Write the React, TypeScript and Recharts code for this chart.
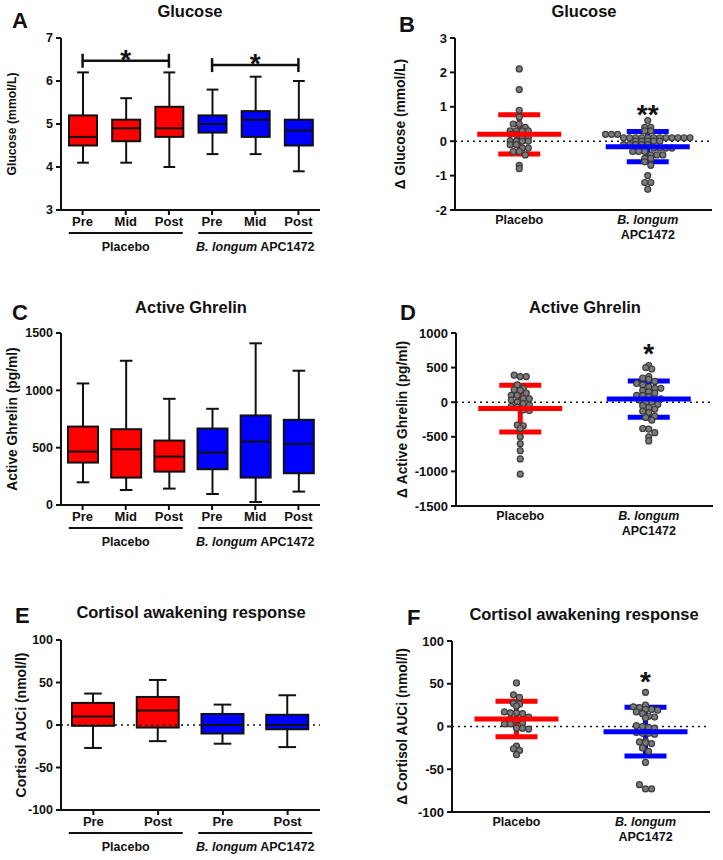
import React from 'react';
import {
  ComposedChart,
  ScatterChart,
  Bar,
  Scatter,
  XAxis,
  YAxis,
  ReferenceLine,
  ReferenceDot,
  ErrorBar,
} from 'recharts';

const FONT = '"Liberation Sans", Arial, sans-serif';
const RED = '#ff0000';
const BLUE = '#0000ff';
const INK = '#111111';

const groups = ['Placebo', 'B. longum APC1472'];
const timesThree = ['Pre', 'Mid', 'Post'];
const timesTwo = ['Pre', 'Post'];

// box plots, order: placebo times, then B. longum times
const glucoseMin = [4.1, 4.1, 4.0, 4.3, 4.3, 3.9];
const glucoseQ1 = [4.5, 4.6, 4.7, 4.8, 4.7, 4.5];
const glucoseMedian = [4.7, 4.9, 4.9, 5.0, 5.1, 4.85];
const glucoseQ3 = [5.2, 5.1, 5.4, 5.2, 5.3, 5.1];
const glucoseMax = [6.2, 5.6, 6.2, 5.8, 6.1, 6.0];
const glucoseTicks = [3, 4, 5, 6, 7];

const ghrelinMin = [198, 131, 143, 96, 26, 117];
const ghrelinQ1 = [370, 239, 291, 312, 239, 277];
const ghrelinMedian = [466, 486, 422, 457, 553, 533];
const ghrelinQ3 = [684, 661, 562, 667, 781, 743];
const ghrelinMax = [1060, 1258, 926, 839, 1410, 1171];
const ghrelinTicks = [0, 500, 1000, 1500];

const cortisolMin = [-27, -19, -22, -26];
const cortisolQ1 = [-1, -3, -10, -5];
const cortisolMedian = [10, 17, 0, 0];
const cortisolQ3 = [26, 33, 13, 12];
const cortisolMax = [37, 53, 24, 35];
const cortisolTicks = [-100, -50, 0, 50, 100];

// significance brackets on panel A
const glucoseBrackets = [
  { from: 'Placebo Pre', to: 'Placebo Post', y: 6.47, text: '*' },
  { from: 'B. longum APC1472 Pre', to: 'B. longum APC1472 Post', y: 6.37, text: '*' },
];

// change scores (post - pre)
const dGlucosePlacebo = [2.1, 1.5, 0.9, 0.7, 0.5, 0.5, 0.4, 0.3, 0.3, 0.3, 0.3, 0.2, 0.2, 0.1, 0.1, 0.0, 0.0, 0.0, 0.0, -0.1, -0.1, -0.2, -0.2, -0.3, -0.3, -0.4, -0.7, -0.8];
const dGlucoseLongum = [0.6, 0.4, 0.4, 0.3, 0.3, 0.2, 0.2, 0.2, 0.1, 0.1, 0.1, 0.1, 0.1, 0.1, 0.1, 0.1, 0.1, 0.1, 0.1, 0.1, 0.0, 0.0, 0.0, 0.0, 0.0, -0.1, -0.1, -0.1, -0.1, -0.1, -0.2, -0.2, -0.2, -0.2, -0.3, -0.3, -0.3, -0.4, -0.4, -0.4, -0.5, -0.5, -0.6, -0.7, -1.0, -1.2, -1.2, -1.4];
const dGlucoseMean = [0.2, -0.16];
const dGlucoseSd = [0.57, 0.44];
const dGlucoseTicks = [-2, -1, 0, 1, 2, 3];
const dGlucoseStar = { text: '**', y: 0.96 };

const dGhrelinPlacebo = [390, 370, 370, 250, 200, 180, 170, 130, 100, 100, 50, 50, 30, 0, -20, -40, -60, -70, -110, -120, -330, -340, -380, -500, -600, -700, -820, -1040];
const dGhrelinLongum = [530, 500, 480, 370, 350, 330, 300, 270, 250, 220, 200, 200, 170, 150, 130, 100, 100, 80, 50, 50, 30, 0, 0, -30, -50, -80, -100, -130, -150, -200, -220, -260, -380, -390, -440, -500, -560];
const dGhrelinMean = [-92, 45];
const dGhrelinSd = [338, 261];
const dGhrelinTicks = [-1500, -1000, -500, 0, 500, 1000];
const dGhrelinStar = { text: '*', y: 800 };

const dCortisolPlacebo = [51, 37, 34, 27, 26, 24, 17, 16, 16, 15, 11, 9, 8, 4, 3, 3, -2, -2, -3, -23, -26, -28, -33];
const dCortisolLongum = [40, 25, 23, 22, 20, 20, 19, 17, 15, 12, 11, 10, 1, 0, -1, -2, -7, -8, -8, -9, -17, -18, -19, -20, -25, -29, -42, -68, -73, -73];
const dCortisolMean = [8.8, -6];
const dCortisolSd = [20.8, 28.4];
const dCortisolTicks = [-100, -50, 0, 50, 100];
const dCortisolStar = { text: '*', y: 60 };

function boxRows(times: string[], min: number[], q1: number[], med: number[], q3: number[], max: number[]) {
  return groups.flatMap((g, gi) =>
    times.map((t, ti) => {
      const i = gi * times.length + ti;
      return { key: `${g} ${t}`, time: t, group: g, min: min[i], q1: q1[i], median: med[i], q3: q3[i], max: max[i], range: [min[i], max[i]] };
    })
  );
}

// simple beeswarm: values in the same bin are spread sideways around the group centre
function swarm(values: number[], center: number, bin: number, step: number) {
  const bins = new Map<number, number[]>();
  values.forEach((v) => {
    const k = Math.round(v / bin);
    if (!bins.has(k)) bins.set(k, []);
    bins.get(k)!.push(v);
  });
  const pts: { x: number; y: number }[] = [];
  bins.forEach((vs) => {
    vs.forEach((v, i) => pts.push({ x: center + (i - (vs.length - 1) / 2) * step, y: v }));
  });
  return pts;
}

const tickStyle = { fill: INK, fontSize: 13, fontWeight: 700, fontFamily: FONT };
const axisLine = { stroke: INK, strokeWidth: 2 };

function BoxShape(props: any) {
  const { x, y, width, height, payload } = props;
  if (!payload) return null;
  const top = Math.min(y, y + height);
  const h = Math.abs(height);
  const span = payload.max - payload.min;
  const py = (v: number) => top + ((payload.max - v) / span) * h;
  const cx = x + width / 2;
  const cap = width * 0.21;
  const fill = payload.group === groups[0] ? RED : BLUE;
  return (
    <g stroke={INK} strokeWidth={2}>
      <line x1={cx} x2={cx} y1={py(payload.max)} y2={py(payload.q3)} />
      <line x1={cx} x2={cx} y1={py(payload.q1)} y2={py(payload.min)} />
      <line x1={cx - cap} x2={cx + cap} y1={py(payload.max)} y2={py(payload.max)} />
      <line x1={cx - cap} x2={cx + cap} y1={py(payload.min)} y2={py(payload.min)} />
      <rect x={x} y={py(payload.q3)} width={width} height={py(payload.q1) - py(payload.q3)} fill={fill} />
      <line x1={x} x2={x + width} y1={py(payload.median)} y2={py(payload.median)} />
    </g>
  );
}

function GroupName({ x, y, name, size }: { x: number; y: number; name: string; size: number }) {
  const italic = name.startsWith('B. longum');
  return (
    <text x={x} y={y} textAnchor="middle" fontFamily={FONT} fontWeight={700} fontSize={size} fill={INK}>
      {italic ? (
        <>
          <tspan fontStyle="italic">B. longum</tspan>
          <tspan> APC1472</tspan>
        </>
      ) : (
        name
      )}
    </text>
  );
}

function GroupTick(props: any) {
  const { x, y, payload } = props;
  return (
    <g>
      <line x1={x - 57} x2={x + 57} y1={y + 3} y2={y + 3} stroke={INK} strokeWidth={2} />
      <GroupName x={x} y={y + 21} name={payload.value} size={12.5} />
    </g>
  );
}

function Bracket(props: any) {
  const { x1, y1, x2, text } = props;
  return (
    <g>
      <line x1={x1} x2={x2} y1={y1} y2={y1} stroke={INK} strokeWidth={2.5} />
      <line x1={x1} x2={x1} y1={y1 - 7} y2={y1 + 7} stroke={INK} strokeWidth={2.5} />
      <line x1={x2} x2={x2} y1={y1 - 7} y2={y1 + 7} stroke={INK} strokeWidth={2.5} />
      <text x={(x1 + x2) / 2} y={y1 + 8} textAnchor="middle" fontFamily={FONT} fontWeight={700} fontSize={28} fill={INK}>
        {text}
      </text>
    </g>
  );
}

function BoxPanel(props: any) {
  const { rows, domain, ticks, yLabel, labelSize, barSize, box, zeroLine, brackets, tickSize } = props;
  return (
    <div style={{ position: 'absolute', left: box.left, top: box.top }}>
      <ComposedChart width={box.width} height={box.height} data={rows} margin={box.margin}>
        <XAxis
          dataKey="key"
          type="category"
          interval={0}
          height={20}
          axisLine={axisLine}
          tickLine={axisLine}
          tickSize={5}
          tickMargin={2}
          tick={tickStyle}
          tickFormatter={(v: string) => v.split(' ').pop() as string}
        />
        <XAxis
          xAxisId="group"
          dataKey="group"
          type="category"
          allowDuplicatedCategory={false}
          height={30}
          axisLine={false}
          tickLine={false}
          tickSize={0}
          tickMargin={0}
          interval={0}
          tick={<GroupTick />}
        />
        <YAxis
          type="number"
          domain={domain}
          ticks={ticks}
          allowDataOverflow
          interval={0}
          width={box.axisX - box.margin.left}
          axisLine={axisLine}
          tickLine={axisLine}
          tickSize={5}
          tickMargin={3}
          tick={{ ...tickStyle, fontSize: tickSize }}
          label={{
            value: yLabel,
            angle: -90,
            position: 'insideLeft',
            offset: box.labelX - box.margin.left,
            style: { textAnchor: 'middle', fontSize: labelSize, fontWeight: 700, fill: INK, fontFamily: FONT },
          }}
        />
        {zeroLine && <ReferenceLine y={0} stroke={INK} strokeWidth={1.6} strokeDasharray="2 4" />}
        <Bar dataKey="range" barSize={barSize} shape={<BoxShape />} isAnimationActive={false} />
        {(brackets || []).map((b: any) => (
          <ReferenceLine
            key={b.from}
            segment={[
              { x: b.from, y: b.y },
              { x: b.to, y: b.y },
            ]}
            shape={(p: any) => <Bracket {...p} text={b.text} />}
          />
        ))}
      </ComposedChart>
    </div>
  );
}

function RightTick(props: any) {
  const { x, y, payload } = props;
  const name = groups[payload.value - 1];
  if (!name) return null;
  if (name.startsWith('B. longum')) {
    return (
      <text x={x} y={y} textAnchor="middle" fontFamily={FONT} fontWeight={700} fontSize={12.5} fill={INK}>
        <tspan x={x} dy={14} fontStyle="italic">B. longum</tspan>
        <tspan x={x} dy={15}>APC1472</tspan>
      </text>
    );
  }
  return <GroupName x={x} y={y + 14} name={name} size={12.5} />;
}

function Dot(props: any) {
  return <circle cx={props.cx} cy={props.cy} r={3} fill="#7a7a7a" stroke="#3c3c3c" strokeWidth={1.2} />;
}

function MeanLine(props: any) {
  const { cx, cy, color } = props;
  return <line x1={cx - 42} x2={cx + 42} y1={cy} y2={cy} stroke={color} strokeWidth={5} />;
}

function StarText(props: any) {
  const { cx, cy, text } = props;
  return (
    <text x={cx} y={cy + 16} textAnchor="middle" fontFamily={FONT} fontWeight={700} fontSize={28} fill={INK}>
      {text}
    </text>
  );
}

function DotPanel(props: any) {
  const { placebo, longum, mean, sd, domain, ticks, yLabel, star, box, bin } = props;
  const dots = [...swarm(placebo, 1, bin, 0.047), ...swarm(longum, 2, bin, 0.047)];
  const meanPlacebo = [{ x: 1, y: mean[0], err: sd[0] }];
  const meanLongum = [{ x: 2, y: mean[1], err: sd[1] }];
  return (
    <div style={{ position: 'absolute', left: box.left, top: box.top }}>
      <ScatterChart width={box.width} height={box.height} margin={box.margin}>
        <XAxis
          type="number"
          dataKey="x"
          domain={[0.5, 2.5]}
          ticks={[1, 2]}
          allowDataOverflow
          interval={0}
          height={box.xHeight}
          axisLine={axisLine}
          tickLine={false}
          tickSize={0}
          tickMargin={0}
          tick={<RightTick />}
        />
        <YAxis
          type="number"
          dataKey="y"
          domain={domain}
          ticks={ticks}
          allowDataOverflow
          interval={0}
          width={box.axisX - box.margin.left}
          axisLine={axisLine}
          tickLine={axisLine}
          tickSize={5}
          tickMargin={3}
          tick={tickStyle}
          label={{
            value: yLabel,
            angle: -90,
            position: 'insideLeft',
            offset: box.labelX - box.margin.left,
            style: { textAnchor: 'middle', fontSize: 13.8, fontWeight: 700, fill: INK, fontFamily: FONT },
          }}
        />
        <ReferenceLine y={0} stroke={INK} strokeWidth={1.6} strokeDasharray="2 4" />
        <Scatter data={dots} shape={<Dot />} isAnimationActive={false} />
        <Scatter data={meanPlacebo} shape={<MeanLine color={RED} />} isAnimationActive={false}>
          <ErrorBar dataKey="err" direction="y" width={21} stroke={RED} strokeWidth={5} isAnimationActive={false} />
        </Scatter>
        <Scatter data={meanLongum} shape={<MeanLine color={BLUE} />} isAnimationActive={false}>
          <ErrorBar dataKey="err" direction="y" width={21} stroke={BLUE} strokeWidth={5} isAnimationActive={false} />
        </Scatter>
        <ReferenceDot x={2} y={star.y} r={0} shape={(p: any) => <StarText {...p} text={star.text} />} />
      </ScatterChart>
    </div>
  );
}

const headings = [
  { letter: 'A', title: 'Glucose', lx: 12, ly: 28, tx: 190, ty: 17 },
  { letter: 'B', title: 'Glucose', lx: 399, ly: 32, tx: 584, ty: 17 },
  { letter: 'C', title: 'Active Ghrelin', lx: 12, ly: 320, tx: 191, ty: 313 },
  { letter: 'D', title: 'Active Ghrelin', lx: 400, ly: 320, tx: 585, ty: 313 },
  { letter: 'E', title: 'Cortisol awakening response', lx: 15, ly: 623, tx: 191, ty: 618 },
  { letter: 'F', title: 'Cortisol awakening response', lx: 407, ly: 625, tx: 584, ty: 620 },
];

export default function App() {
  return (
    <div style={{ position: 'absolute', left: 0, top: 0, width: 723, height: 860, background: '#fff', overflow: 'hidden' }}>
      <BoxPanel
        rows={boxRows(timesThree, glucoseMin, glucoseQ1, glucoseMedian, glucoseQ3, glucoseMax)}
        domain={[3, 7]}
        ticks={glucoseTicks}
        yLabel="Glucose (mmol/L)"
        labelSize={12.2}
        tickSize={12.5}
        barSize={28}
        brackets={glucoseBrackets}
        box={{ left: 0, top: 0, width: 360, height: 290, margin: { top: 38, right: 40, bottom: 30, left: 4 }, axisX: 61, labelX: 12 }}
      />
      <DotPanel
        placebo={dGlucosePlacebo}
        longum={dGlucoseLongum}
        mean={dGlucoseMean}
        sd={dGlucoseSd}
        domain={[-2, 3]}
        ticks={dGlucoseTicks}
        yLabel="Δ Glucose (mmol/L)"
        star={dGlucoseStar}
        bin={0.16}
        box={{ left: 360, top: 0, width: 363, height: 290, margin: { top: 38, right: 11, bottom: 30, left: 4 }, axisX: 95, labelX: 40, xHeight: 50 }}
      />
      <BoxPanel
        rows={boxRows(timesThree, ghrelinMin, ghrelinQ1, ghrelinMedian, ghrelinQ3, ghrelinMax)}
        domain={[0, 1500]}
        ticks={ghrelinTicks}
        yLabel="Active Ghrelin (pg/ml)"
        labelSize={13.8}
        tickSize={12.5}
        barSize={30}
        box={{ left: 0, top: 290, width: 360, height: 290, margin: { top: 43, right: 40, bottom: 25, left: 4 }, axisX: 61, labelX: 12 }}
      />
      <DotPanel
        placebo={dGhrelinPlacebo}
        longum={dGhrelinLongum}
        mean={dGhrelinMean}
        sd={dGhrelinSd}
        domain={[-1500, 1000]}
        ticks={dGhrelinTicks}
        yLabel="Δ Active Ghrelin (pg/ml)"
        star={dGhrelinStar}
        bin={80}
        box={{ left: 360, top: 290, width: 363, height: 290, margin: { top: 43, right: 10, bottom: 24, left: 4 }, axisX: 96, labelX: 42, xHeight: 50 }}
      />
      <BoxPanel
        rows={boxRows(timesTwo, cortisolMin, cortisolQ1, cortisolMedian, cortisolQ3, cortisolMax)}
        domain={[-100, 100]}
        ticks={cortisolTicks}
        yLabel="Cortisol AUCi (nmol/l)"
        labelSize={14}
        tickSize={12.5}
        barSize={42}
        zeroLine
        box={{ left: 0, top: 580, width: 360, height: 280, margin: { top: 60, right: 40, bottom: 0, left: 4 }, axisX: 61, labelX: 21 }}
      />
      <DotPanel
        placebo={dCortisolPlacebo}
        longum={dCortisolLongum}
        mean={dCortisolMean}
        sd={dCortisolSd}
        domain={[-100, 100]}
        ticks={dCortisolTicks}
        yLabel="Δ Cortisol AUCi (nmol/l)"
        star={dCortisolStar}
        bin={7}
        box={{ left: 360, top: 580, width: 363, height: 280, margin: { top: 61, right: 13, bottom: 0, left: 4 }, axisX: 92, labelX: 42, xHeight: 48 }}
      />
      <svg width={723} height={860} style={{ position: 'absolute', left: 0, top: 0, pointerEvents: 'none' }}>
        {headings.map((h) => (
          <g key={h.letter} fontFamily={FONT} fontWeight={700} fill={INK}>
            <text x={h.lx} y={h.ly} fontSize={22}>{h.letter}</text>
            <text x={h.tx} y={h.ty} fontSize={16.5} textAnchor="middle">{h.title}</text>
          </g>
        ))}
      </svg>
    </div>
  );
}
